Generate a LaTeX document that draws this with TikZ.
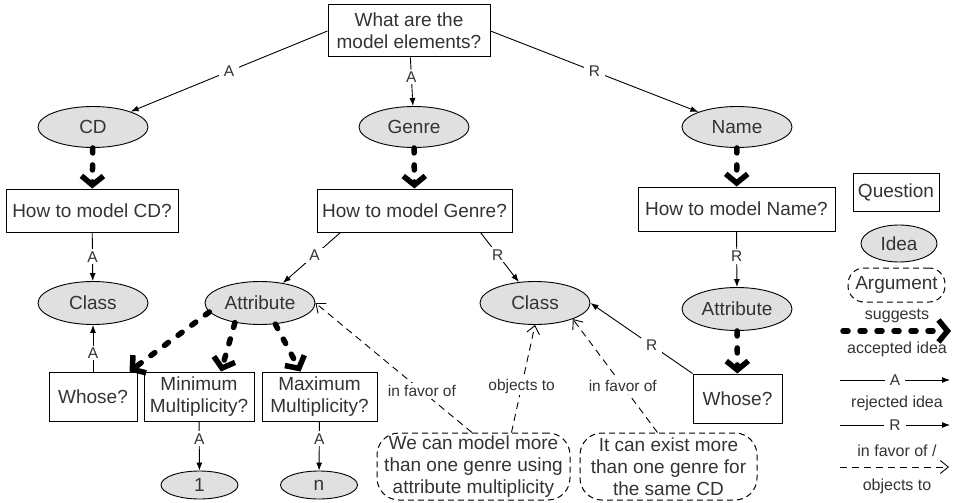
\documentclass[tikz,border=0pt]{standalone}
\usepackage{fontspec}
\setmainfont{Liberation Sans}
\usetikzlibrary{arrows.meta,shapes.geometric}
\newcommand\mainfs{\fontsize{19}{22}\selectfont}
\newcommand\lblfs{\fontsize{15.5}{17}\selectfont}
\newcommand\legfs{\fontsize{16}{18}\selectfont}
\definecolor{txt}{HTML}{333333}
\definecolor{ideafill}{HTML}{E0E0E0}
\tikzset{
 qbox/.style={draw, line width=1pt, fill=white, inner sep=0pt, align=center, font=\mainfs, text=txt},
 idea/.style={ellipse, draw, line width=0.9pt, fill=ideafill, inner sep=0pt, font=\mainfs, text=txt},
 argbox/.style={draw, dash pattern=on 6pt off 4pt, rounded corners=22pt, line width=1pt, inner sep=0pt, align=center, font=\mainfs, text=txt},
 sugg/.style={line width=5.5pt, line cap=round, dash pattern=on 5pt off 12pt, -{Straight Barb[length=9pt,width=22pt]}},
 rel/.style={line width=0.9pt, -{Latex[length=8pt,width=6pt]}},
 argedge/.style={line width=0.9pt, dash pattern=on 7pt off 5pt, -{Straight Barb[length=8pt,width=13pt]}},
 lbl/.style={fill=white, inner xsep=5pt, inner ysep=2pt, font=\lblfs, text=txt},
 lg/.style={inner sep=0pt, font=\legfs, text=txt},
}
\begin{document}
\begin{tikzpicture}[x=1pt,y=-1pt]
\useasboundingbox (0,0) rectangle (958,503);
% nodes
\node[qbox, minimum width=162pt, minimum height=52pt] (q0) at (409,31) {What are the\\model elements?};
\node[idea, minimum width=110pt, minimum height=41pt] (cd) at (93,127) {CD};
\node[idea, minimum width=110pt, minimum height=41pt] (genre) at (414,127) {Genre};
\node[idea, minimum width=110pt, minimum height=41pt] (name) at (737,127) {Name};
\node[qbox, minimum width=172pt, minimum height=43pt] (qcd) at (92,210.5) {How to model CD?};
\node[qbox, minimum width=195pt, minimum height=43pt] (qgenre) at (414.5,210.5) {How to model Genre?};
\node[qbox, minimum width=197pt, minimum height=44pt] (qname) at (736.5,209) {How to model Name?};
\node[idea, minimum width=110pt, minimum height=43pt] (classL) at (93,303) {Class};
\node[idea, minimum width=110pt, minimum height=43pt] (attrL) at (260,303) {Attribute};
\node[idea, minimum width=110pt, minimum height=43pt] (classM) at (535,303) {Class};
\node[idea, minimum width=110pt, minimum height=43pt] (attrR) at (737,309) {Attribute};
\node[qbox, minimum width=88pt, minimum height=49pt] (whoseL) at (93,396.5) {Whose?};
\node[qbox, minimum width=110pt, minimum height=49pt] (minM) at (199,396.5) {Minimum\\Multiplicity?};
\node[qbox, minimum width=115pt, minimum height=49pt] (maxM) at (319.5,396.5) {Maximum\\Multiplicity?};
\node[qbox, minimum width=89pt, minimum height=49pt] (whoseR) at (737.5,398.5) {Whose?};
\node[idea, minimum width=77pt, minimum height=28pt] (one) at (199.5,485) {1};
\node[idea, minimum width=77pt, minimum height=28pt] (nn) at (319,485) {n};
\node[argbox, minimum width=193pt, minimum height=67pt] (arg1) at (473.5,466.5) {We can model more\\than one genre using\\attribute multiplicity};
\node[argbox, minimum width=177pt, minimum height=67pt] (arg2) at (668.5,466.5) {It can exist more\\than one genre for\\the same CD};
% edges
\draw[rel] (q0.west) -- node[lbl]{A} (cd);
\draw[rel] (q0) -- node[lbl,pos=0.4]{A} (genre);
\draw[rel] (q0.east) -- node[lbl]{R} (name);
\draw[sugg] (cd) -- (qcd);
\draw[sugg] (genre) -- (qgenre);
\draw[sugg] (name) -- (qname);
\draw[rel] (qcd) -- node[lbl]{A} (classL);
\draw[rel] ([xshift=-74pt]qgenre.south) -- node[lbl,pos=0.45]{A} (attrL);
\draw[rel] ([xshift=66pt]qgenre.south) -- node[lbl,pos=0.45]{R} (classM);
\draw[rel] (qname) -- node[lbl,pos=0.45]{R} (attrR);
\draw[rel] (whoseL) -- node[lbl,pos=0.4]{A} (classL);
\draw[sugg] (attrL.190) -- ([xshift=-8pt]whoseL.north east);
\draw[sugg] (attrL.218) -- ([xshift=22pt]minM.north);
\draw[sugg] (attrL.306) -- ([xshift=-19pt]maxM.north);
\draw[rel] (minM) -- node[lbl,pos=0.35]{A} (one);
\draw[rel] (maxM) -- node[lbl,pos=0.35]{A} (nn);
\draw[sugg] (attrR) -- (whoseR);
\draw[rel] (whoseR.north west) -- node[lbl,pos=0.4]{R} (classM.east);
\draw[argedge] ([xshift=-1.5pt]arg1.north) -- node[lbl,pos=0.32]{in favor of} (attrL.east);
\draw[argedge] ([xshift=38pt]arg1.north) -- node[lbl,pos=0.43]{objects to} (classM.south);
\draw[argedge] ([xshift=-11pt]arg2.north) -- node[lbl,pos=0.41]{in favor of} (classM.337);
% legend
\node[qbox, minimum width=86pt, minimum height=38pt] (legQ) at (896,192) {Question};
\node[idea, minimum width=76pt, minimum height=37pt] (legI) at (899,243.5) {Idea};
\node[argbox, minimum width=97pt, minimum height=34pt, rounded corners=16pt] (legArg) at (896.5,285) {Argument};
\node[lg] (legSug) at (897,316) {suggests};
\coordinate (s1) at (843,331);
\coordinate (s2) at (951,331);
\draw[sugg] (s1) -- (s2);
\node[lg] (legAcc) at (897,349) {accepted idea};
\coordinate (a1) at (840,380);
\coordinate (a2) at (950,380);
\draw[rel] (a1) -- node[lbl]{A} (a2);
\node[lg] (legRej) at (897,403) {rejected idea};
\coordinate (r1) at (840,425);
\coordinate (r2) at (950,425);
\draw[rel] (r1) -- node[lbl]{R} (r2);
\node[lg] (legFav) at (897,451) {in favor of /};
\coordinate (d1) at (840,467);
\coordinate (d2) at (949,467);
\draw[argedge] (d1) -- (d2);
\node[lg] (legObj) at (897,486) {objects to};
\end{tikzpicture}
\end{document}
